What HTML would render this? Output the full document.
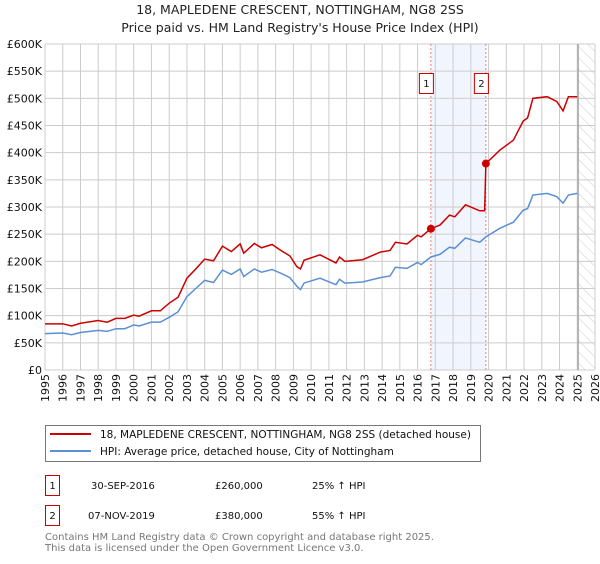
<!DOCTYPE html>
<html><head><meta charset="utf-8"><style>
body{margin:0;background:#fff;font-family:"DejaVu Sans","Liberation Sans",sans-serif;}
svg text{font-family:"DejaVu Sans","Liberation Sans",sans-serif;}
</style></head><body>
<svg id="chart" width="600" height="560" viewBox="0 0 600 560" xmlns="http://www.w3.org/2000/svg">
<defs><pattern id="hatch" width="8" height="8" patternUnits="userSpaceOnUse" patternTransform="rotate(-45)"><line x1="0" y1="0" x2="0" y2="8" stroke="#ccc" stroke-width="1"/></pattern></defs>
<text x="300" y="14" text-anchor="middle" font-size="12.5" fill="#222">18, MAPLEDENE CRESCENT, NOTTINGHAM, NG8 2SS</text>
<text x="300" y="32" text-anchor="middle" font-size="12.5" fill="#222">Price paid vs. HM Land Registry's House Price Index (HPI)</text>
<g id="grid"></g><g id="series"></g><g id="axes"></g>
<rect x="45.5" y="425.5" width="435" height="36" fill="#fff" stroke="#777"/>
<line x1="50" y1="434" x2="91" y2="434" stroke="#cc0000" stroke-width="2"/>
<text x="100" y="438" font-size="10.5" fill="#111">18, MAPLEDENE CRESCENT, NOTTINGHAM, NG8 2SS (detached house)</text>
<line x1="50" y1="451" x2="91" y2="451" stroke="#5b8fd6" stroke-width="2"/>
<text x="100" y="455" font-size="10.5" fill="#111">HPI: Average price, detached house, City of Nottingham</text>
<g font-size="10" fill="#111">
<rect x="45.5" y="475.5" width="14" height="20" fill="#fff" stroke="#cc0000"/>
<text x="52.5" y="489" text-anchor="middle">1</text>
<text x="91" y="489">30-SEP-2016</text><text x="215" y="489">£260,000</text><text x="312" y="489">25% ↑ HPI</text></g>
<g font-size="10" fill="#111">
<rect x="45.5" y="505.5" width="14" height="20" fill="#fff" stroke="#cc0000"/>
<text x="52.5" y="519" text-anchor="middle">2</text>
<text x="88" y="519">07-NOV-2019</text><text x="215" y="519">£380,000</text><text x="312" y="519">55% ↑ HPI</text></g>
<text x="45" y="540" font-size="10" fill="#777">Contains HM Land Registry data © Crown copyright and database right 2025.</text>
<text x="45" y="551" font-size="10" fill="#777">This data is licensed under the Open Government Licence v3.0.</text>
</svg>
<script>
const yearTicks=[1995,1996,1997,1998,1999,2000,2001,2002,2003,2004,2005,2006,2007,2008,2009,2010,2011,2012,2013,2014,2015,2016,2017,2018,2019,2020,2021,2022,2023,2024,2025,2026];
const valueTicks=[0,50,100,150,200,250,300,350,400,450,500,550,600];
const valueLabels=["£0","£50K","£100K","£150K","£200K","£250K","£300K","£350K","£400K","£450K","£500K","£550K","£600K"];
const hpiYears=[1995,1996,1996.5,1997,1998,1998.5,1999,1999.5,2000,2000.3,2001,2001.5,2002,2002.5,2003,2003.5,2004,2004.5,2005,2005.5,2006,2006.2,2006.8,2007.2,2007.8,2008.3,2008.8,2009.2,2009.4,2009.6,2010.5,2011.4,2011.6,2011.9,2012.9,2013.9,2014.45,2014.75,2015.4,2016,2016.2,2016.75,2017.27,2017.8,2018.1,2018.7,2019.5,2019.85,2020.65,2021.4,2021.95,2022.2,2022.5,2023.3,2023.85,2024.2,2024.5,2025];
const hpiValues=[67,68,65,69,73,71,76,76,83,81,88,88,97,107,135,150,165,161,184,176,186,172,186,180,185,178,170,154,148,160,169,157,167,160,162,170,173,189,187,198,194,208,213,226,224,243,235,245,261,272,294,297,322,325,319,307,322,325];
const priceYears=[1995,1996,1996.5,1997,1998,1998.5,1999,1999.5,2000,2000.3,2001,2001.5,2002,2002.5,2003,2003.5,2004,2004.5,2005,2005.5,2006,2006.2,2006.8,2007.2,2007.8,2008.3,2008.8,2009.2,2009.4,2009.6,2010.5,2011.4,2011.6,2011.9,2012.9,2013.9,2014.45,2014.75,2015.4,2016,2016.2,2016.75,2017.27,2017.8,2018.1,2018.7,2019.5,2019.78,2019.85,2020.65,2021.4,2021.95,2022.2,2022.5,2023.3,2023.85,2024.2,2024.5,2025];
const priceValues=[85,85,81,86,91,88,95,95,101,99,109,109,123,134,169,186,204,201,228,218,232,215,233,225,231,220,210,190,186,202,212,197,208,200,203,217,220,235,232,248,245,260,267,285,282,304,293,293,380,405,423,458,464,500,503,494,477,503,503];
const saleYears=[2016.75,2019.85];
const saleValues=[260,380];
const saleLabels=["1","2"];
const NS="http://www.w3.org/2000/svg";
const X0=45,X1=595,Y0=370,Y1=44;
const xs=y=>X0+(y-1995)/(2026-1995)*(X1-X0);
const ys=v=>Y0-v/600*(Y0-Y1);
function mk(tag,attrs,parent){const e=document.createElementNS(NS,tag);for(const k in attrs)e.setAttribute(k,attrs[k]);parent.appendChild(e);return e;}
const grid=document.getElementById('grid'),series=document.getElementById('series'),axes=document.getElementById('axes');
const band=mk('rect',{x:xs(saleYears[0]),y:Y1,width:xs(saleYears[1])-xs(saleYears[0]),height:Y0-Y1,fill:'#eef3fc',opacity:0.8},grid);


const hat=mk('rect',{x:xs(2025.05),y:Y1,width:X1-xs(2025.05),height:Y0-Y1,fill:'url(#hatch)'},grid);


yearTicks.forEach(t=>{
 mk('line',{x1:xs(t),x2:xs(t),y1:Y1,y2:Y0,stroke:'#ccc','stroke-width':1},grid);
 const tx=mk('text',{x:0,y:0,transform:`translate(${xs(t)+4},${Y0+4}) rotate(-90)`,'text-anchor':'end','font-size':11,fill:'#111'},axes);
 tx.textContent=t;
 
 
});
valueTicks.forEach((v,i)=>{
 mk('line',{x1:X0,x2:X1,y1:ys(v),y2:ys(v),stroke:'#ccc','stroke-width':1},grid);
 const tx=mk('text',{x:X0-3,y:ys(v)+4,'text-anchor':'end','font-size':11,fill:'#111'},axes);
 tx.textContent=valueLabels[i];
 
 
});
mk('line',{x1:xs(2025.05),x2:xs(2025.05),y1:Y1,y2:Y0,stroke:'#999','stroke-width':1.2},grid);
saleYears.forEach((s,i)=>{
 mk('line',{x1:xs(s),x2:xs(s),y1:Y1,y2:Y0,stroke:'#e06666','stroke-width':0.8,'stroke-dasharray':'2,2'},grid);
 const g=mk('g',{},axes);
 
 
 mk('rect',{x:xs(s)-11.5,y:73.5,width:14,height:20,fill:'#fff',stroke:'#cc0000'},g);
 const t=mk('text',{x:xs(s)-4.5,y:87,'text-anchor':'middle','font-size':10,fill:'#111'},g);
 t.textContent=saleLabels[i];
});
const hp=mk('polyline',{points:hpiYears.map((y,i)=>xs(y)+','+ys(hpiValues[i])).join(' '),fill:'none',stroke:'#5b8fd6','stroke-width':1.5},series);


const pp=mk('polyline',{points:priceYears.map((y,i)=>xs(y)+','+ys(priceValues[i])).join(' '),fill:'none',stroke:'#cc0000','stroke-width':1.5},series);


saleYears.forEach((s,i)=>{
 const c=mk('circle',{cx:xs(s),cy:ys(saleValues[i]),r:4,fill:'#cc0000'},series);
 
 
});
</script>
</body></html>
